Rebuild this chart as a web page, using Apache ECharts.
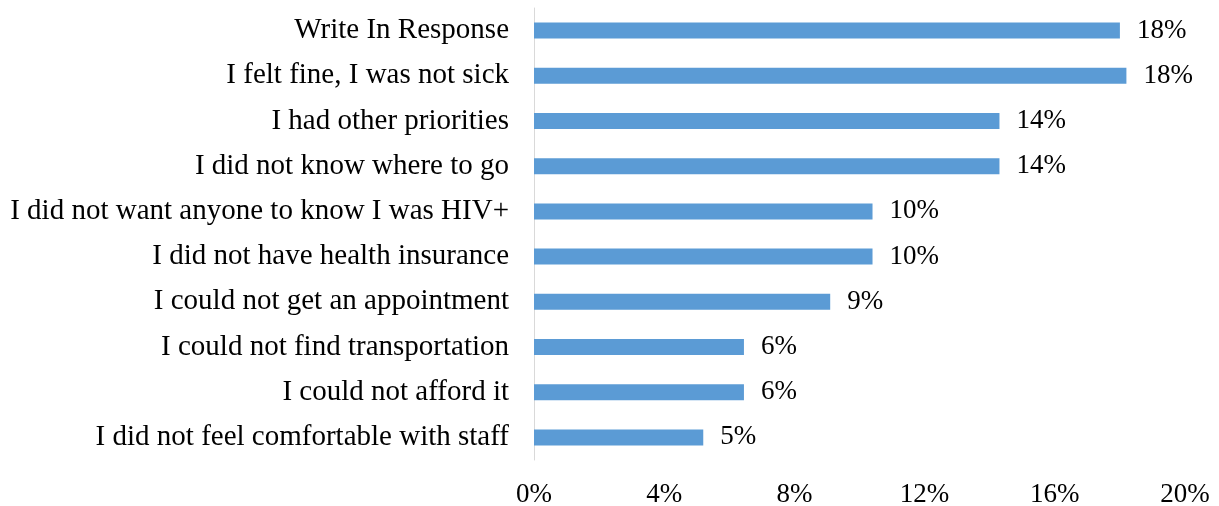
<!DOCTYPE html>
<html>
<head>
<meta charset="utf-8">
<script src="https://cdn.jsdelivr.net/npm/echarts@6/dist/echarts.min.js"></script>
<style>html,body{margin:0;padding:0;background:#fff;}#c{width:1219px;height:506px;}</style>
</head>
<body>
<div id="c"></div>
<script>
const categories = [
  "Write In Response",
  "I felt fine, I was not sick",
  "I had other priorities",
  "I did not know where to go",
  "I did not want anyone to know I was HIV+",
  "I did not have health insurance",
  "I could not get an appointment",
  "I could not find transportation",
  "I could not afford it",
  "I did not feel comfortable with staff"
];
const values = [18.0, 18.2, 14.3, 14.3, 10.4, 10.4, 9.1, 6.45, 6.45, 5.2];
const xTicks = [0, 4, 8, 12, 16, 20];

const FONT = '"Liberation Serif", "DejaVu Serif", serif';
const chart = echarts.init(document.getElementById('c'), null, {renderer: 'canvas'});
chart.setOption({
  animation: false,
  grid: {left: 534, right: 34, top: 8, bottom: 46, containLabel: false, outerBoundsMode: 'none'},
  xAxis: {
    type: 'value', min: 0, max: 20, interval: 4,
    axisLine: {show: false}, axisTick: {show: false}, splitLine: {show: false},
    axisLabel: {margin: 21, color: '#000', fontFamily: FONT, fontSize: 27,
      formatter: v => xTicks.includes(v) ? v + '%' : ''}
  },
  yAxis: {
    type: 'category', data: categories, inverse: true,
    axisLine: {show: true, lineStyle: {color: '#D9D9D9', width: 1}},
    axisTick: {show: false},
    axisLabel: {margin: 25, color: '#000', fontFamily: FONT, fontSize: 29}
  },
  series: [{
    type: 'bar', data: values, barWidth: 16,
    itemStyle: {color: '#5B9BD5'},
    label: {show: true, position: 'right', distance: 17, color: '#000',
      fontFamily: FONT, fontSize: 27, formatter: p => Math.round(p.value) + '%'}
  }]
});
</script>
</body>
</html>
